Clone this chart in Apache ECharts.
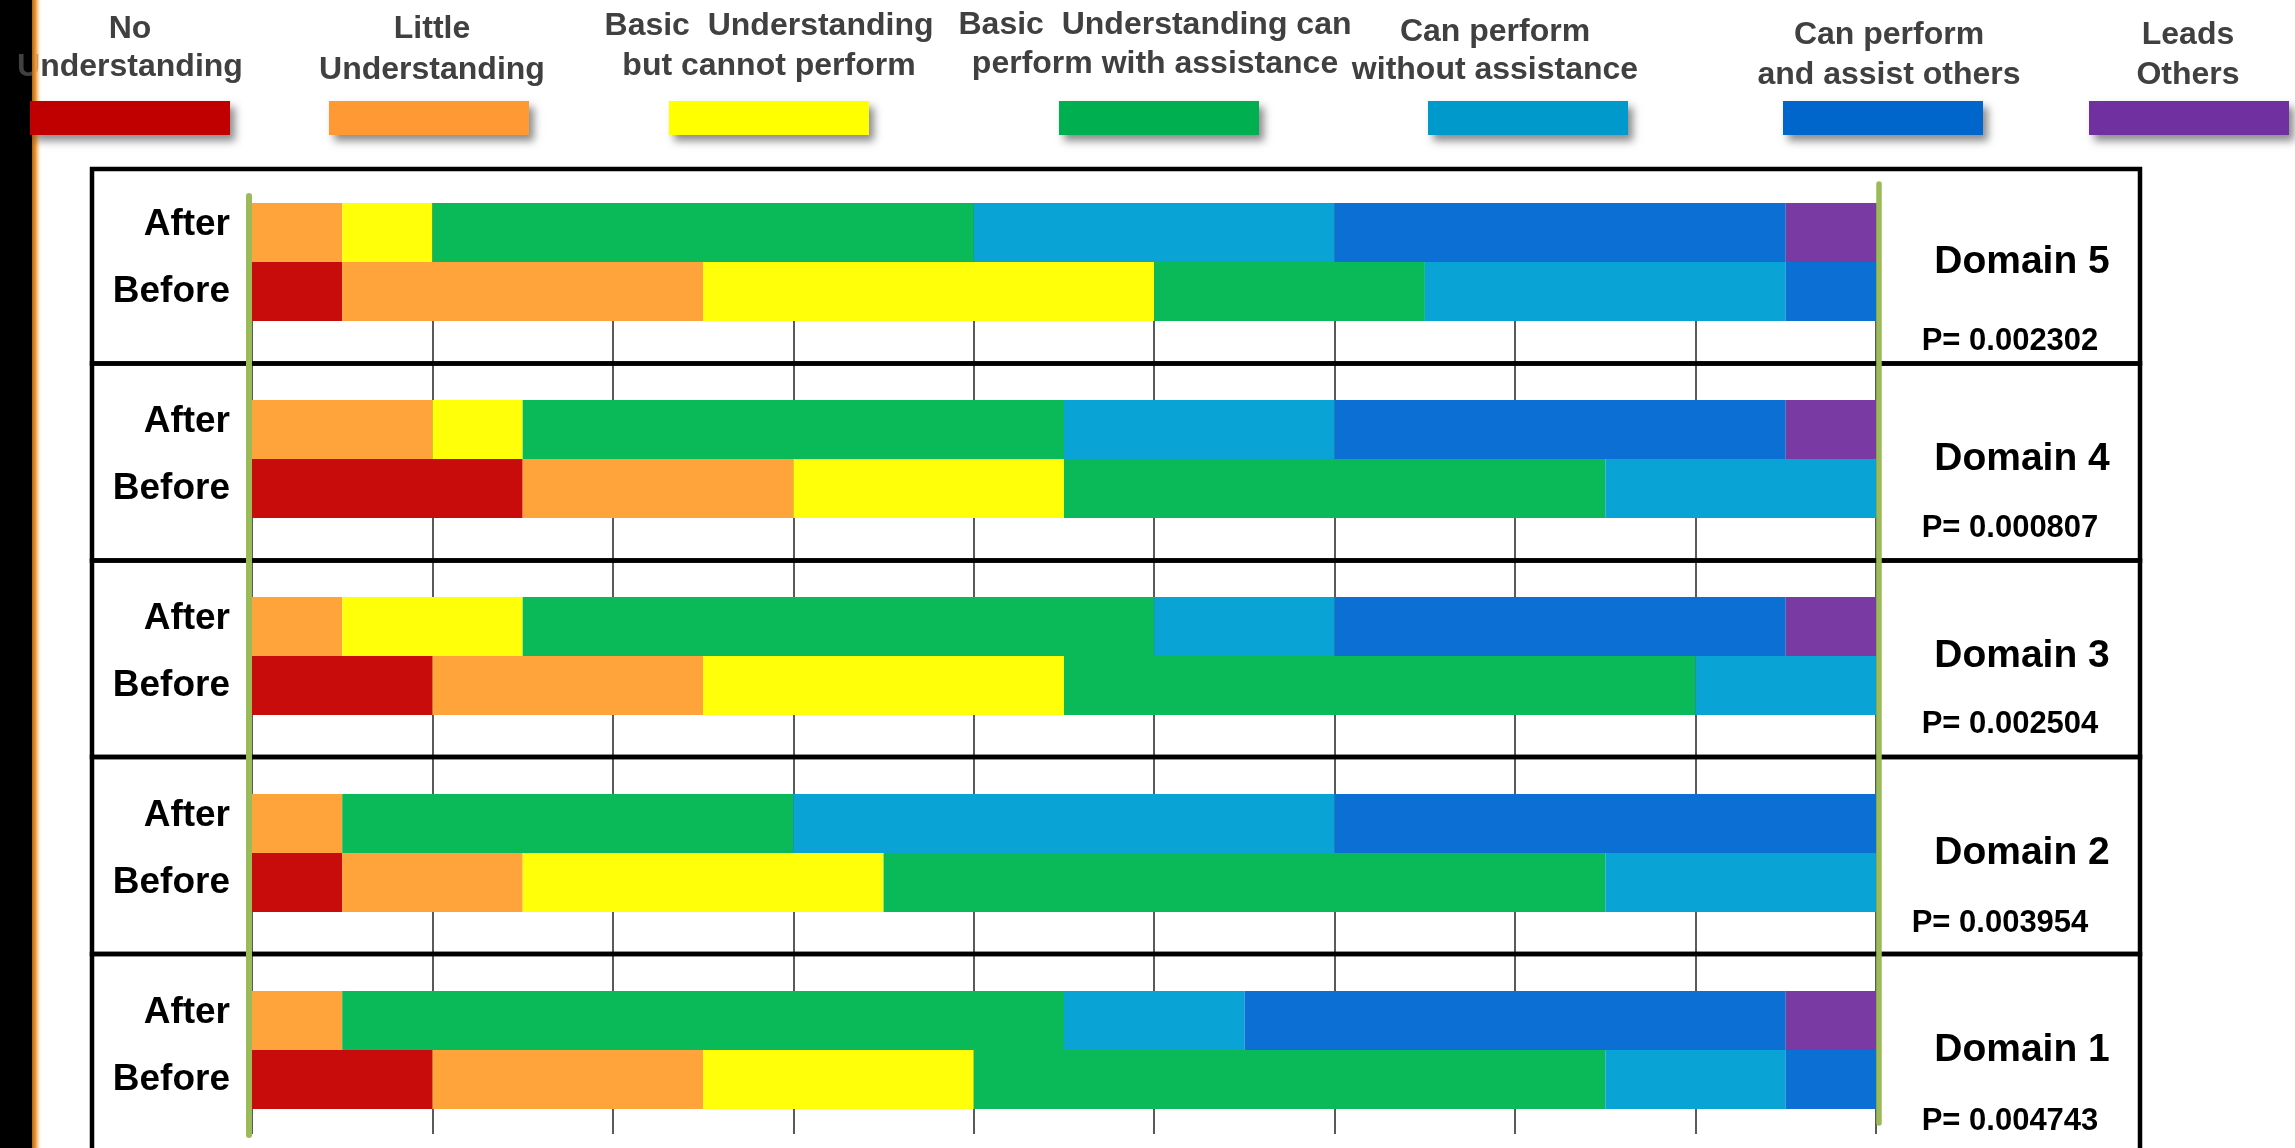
<!DOCTYPE html>
<html>
<head>
<meta charset="utf-8">
<script src="https://cdn.jsdelivr.net/npm/echarts@6/dist/echarts.min.js"></script>
<style>
html, body { margin: 0; padding: 0; background: #fff; }
#chart { width: 2295px; height: 1148px; }
</style>
</head>
<body>
<div id="chart"></div>
<script>
// Skill levels, lowest to highest
const levels = [
  'No Understanding',
  'Little Understanding',
  'Basic Understanding but cannot perform',
  'Basic Understanding can perform with assistance',
  'Can perform without assistance',
  'Can perform and assist others',
  'Leads Others'
];
const legendLines = [
  ['No', 'Understanding'],
  ['Little', 'Understanding'],
  ['Basic  Understanding', 'but cannot perform'],
  ['Basic  Understanding can', 'perform with assistance'],
  ['Can perform', 'without assistance'],
  ['Can perform', 'and assist others'],
  ['Leads', 'Others']
];
const barColors = ['#C80C0C', '#FFA33A', '#FFFF0A', '#0ABA58', '#0AA3D6', '#0C6FD4', '#7A3AA3'];
const legendColors = ['#C00000', '#FF9933', '#FFFF00', '#00B050', '#0099CC', '#0066CC', '#7030A0'];

const domains = ['Domain 5', 'Domain 4', 'Domain 3', 'Domain 2', 'Domain 1'];
const pValues = ['0.002302', '0.000807', '0.002504', '0.003954', '0.004743'];
const rowLabels = ['Before', 'After'];

// Number of participants at each level (18 in total per row)
const domain5After  = [0, 1, 1, 6, 4, 5, 1];
const domain5Before = [1, 4, 5, 3, 4, 1, 0];
const domain4After  = [0, 2, 1, 6, 3, 5, 1];
const domain4Before = [3, 3, 3, 6, 3, 0, 0];
const domain3After  = [0, 1, 2, 7, 2, 5, 1];
const domain3Before = [2, 3, 4, 7, 2, 0, 0];
const domain2After  = [0, 1, 0, 5, 6, 6, 0];
const domain2Before = [1, 2, 4, 8, 3, 0, 0];
const domain1After  = [0, 1, 0, 8, 2, 6, 1];
const domain1Before = [2, 3, 3, 7, 2, 1, 0];

const afterCounts  = [domain5After, domain4After, domain3After, domain2After, domain1After];
const beforeCounts = [domain5Before, domain4Before, domain3Before, domain2Before, domain1Before];

const axisMax = 18;
const axisStep = 2;

// ---- layout ----
const plotLeft = 252, plotRight = 1876;
const firstTop = 203, pitch = 197, rowH = 59;
const gridBottomY = 1134;
const legendX = [30, 329, 669, 1059, 1428, 1783, 2089];
const legendTextX = [130, 432, 769, 1155, 1495, 1889, 2188];
const legendTextY = [[29, 67], [29, 70], [26, 66], [25, 64], [32, 70], [35, 75], [35, 75]];
const panelY = [169, 363.5, 560.5, 757, 954, 1175];
const pTextX = [2010, 2010, 2010, 2000, 2010];
const pTextY = [341, 528, 724.5, 923.6, 1121];
const FONT = '"Liberation Sans", Arial, sans-serif';

const grids = [], xAxes = [], yAxes = [], series = [];

domains.forEach((d, i) => {
  grids.push({ left: plotLeft, width: plotRight - plotLeft, top: firstTop + pitch * i, height: 2 * rowH });
  xAxes.push({ gridIndex: i, type: 'value', min: 0, max: axisMax, interval: axisStep, show: false });
  yAxes.push({
    gridIndex: i, type: 'category', data: rowLabels,
    axisLine: { show: false }, axisTick: { show: false }, splitLine: { show: false },
    axisLabel: {
      margin: 22,
      formatter: v => v === 'After' ? '{a|After}' : '{b|Before}',
      rich: {
        a: { fontSize: 37, fontWeight: 'bold', color: '#000', fontFamily: FONT, padding: [0, 0, 16, 0] },
        b: { fontSize: 37, fontWeight: 'bold', color: '#000', fontFamily: FONT }
      }
    }
  });
  levels.forEach((lv, k) => {
    series.push({
      type: 'bar', name: lv, xAxisIndex: i, yAxisIndex: i, stack: 'pair' + i,
      data: [beforeCounts[i][k], afterCounts[i][k]],
      barWidth: '100%', barCategoryGap: '0%',
      itemStyle: { color: barColors[k] },
      silent: true
    });
  });
});

// vertical grid lines running behind all domains
const bgIndex = grids.length;
grids.push({ left: plotLeft, width: plotRight - plotLeft, top: firstTop, height: gridBottomY - firstTop });
xAxes.push({
  gridIndex: bgIndex, type: 'value', min: 0, max: axisMax, interval: axisStep,
  axisLine: { show: false }, axisTick: { show: false }, axisLabel: { show: false },
  splitLine: { show: true, lineStyle: { color: '#5a5a5a', width: 2 } }, z: 0
});
yAxes.push({ gridIndex: bgIndex, type: 'value', min: 0, max: 1, show: false });

// green frame lines at both ends of the scale
const leftLineIndex = grids.length;
grids.push({ left: 248.5, width: 1630.5, top: 196, height: 939 });
xAxes.push({ gridIndex: leftLineIndex, type: 'value', min: 0, max: 1, show: false });
yAxes.push({
  gridIndex: leftLineIndex, type: 'value', min: 0, max: 1, position: 'left', z: 20,
  axisLine: { show: true, onZero: false, lineStyle: { color: '#9BBB59', width: 6 } },
  axisTick: { show: false }, axisLabel: { show: false }, splitLine: { show: false }
});
const rightLineIndex = grids.length;
grids.push({ left: 248.5, width: 1630.5, top: 184, height: 939 });
xAxes.push({ gridIndex: rightLineIndex, type: 'value', min: 0, max: 1, show: false });
yAxes.push({
  gridIndex: rightLineIndex, type: 'value', min: 0, max: 1, position: 'right', z: 20,
  axisLine: { show: true, onZero: false, lineStyle: { color: '#9BBB59', width: 5.5 } },
  axisTick: { show: false }, axisLabel: { show: false }, splitLine: { show: false }
});

// ---- graphic elements: legend, panels, side labels ----
const graphics = [];

// dark edge strip on the left
graphics.push({ type: 'rect', z: 1, shape: { x: 0, y: 0, width: 32, height: 1148 }, style: { fill: '#000' } });
graphics.push({
  type: 'rect', z: 6, shape: { x: 32, y: 0, width: 10, height: 1148 },
  style: {
    fill: {
      type: 'linear', x: 0, y: 0, x2: 1, y2: 0,
      colorStops: [
        { offset: 0, color: '#B5620E' },
        { offset: 0.4, color: '#F2A03C' },
        { offset: 1, color: 'rgba(255,255,255,0)' }
      ]
    }
  }
});

levels.forEach((lv, k) => {
  graphics.push({
    type: 'rect', z: 7,
    shape: { x: legendX[k], y: 101, width: 200, height: 34 },
    style: { fill: legendColors[k], shadowBlur: 8, shadowOffsetX: 5, shadowOffsetY: 6, shadowColor: 'rgba(0,0,0,0.45)' }
  });
  legendLines[k].forEach((line, j) => {
    graphics.push({
      type: 'text', z: 5,
      x: legendTextX[k], y: legendTextY[k][j],
      style: { text: line, font: 'bold 32px ' + FONT, fill: '#404040', textAlign: 'center', textVerticalAlign: 'middle' }
    });
  });
});

domains.forEach((d, i) => {
  graphics.push({
    type: 'rect', z: 10,
    shape: { x: 92, y: panelY[i], width: 2140 - 92, height: panelY[i + 1] - panelY[i] },
    style: { fill: null, stroke: '#000', lineWidth: 4.5 }
  });
  graphics.push({
    type: 'text', z: 10,
    x: 2022, y: firstTop + pitch * i + rowH,
    style: { text: d, font: 'bold 39px ' + FONT, fill: '#000', textAlign: 'center', textVerticalAlign: 'middle' }
  });
  graphics.push({
    type: 'text', z: 10,
    x: pTextX[i], y: pTextY[i],
    style: { text: 'P= ' + pValues[i], font: 'bold 31px ' + FONT, fill: '#000', textAlign: 'center', textVerticalAlign: 'middle' }
  });
});

const chart = echarts.init(document.getElementById('chart'), null, { renderer: 'canvas' });
chart.setOption({
  animation: false,
  backgroundColor: '#fff',
  grid: grids,
  xAxis: xAxes,
  yAxis: yAxes,
  series: series,
  graphic: { elements: graphics }
});
</script>
</body>
</html>
